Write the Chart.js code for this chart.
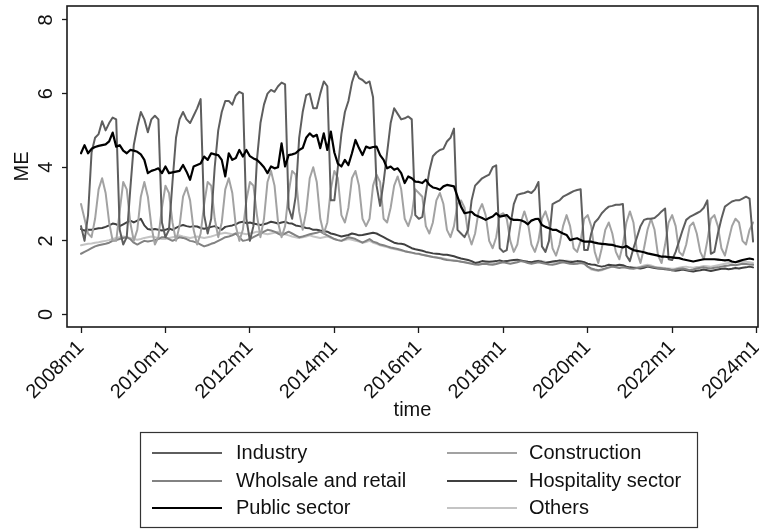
<!DOCTYPE html>
<html>
<head>
<meta charset="utf-8">
<script src="https://cdn.jsdelivr.net/npm/chart.js@4/dist/chart.umd.min.js"></script>
<style>
  html, body { margin: 0; padding: 0; background: #fff; }
  #wrap { width: 759px; height: 529px; }
</style>
</head>
<body>
<div id="wrap"><canvas id="c" width="759" height="529"></canvas></div>
<script>
// Monthly series, 2008m1 .. 2023m12 (index 0 = 2008m1)
const industry = [
  2.4, 2.0, 2.7, 4.4, 4.8, 4.9, 5.25, 5.0, 5.2, 5.35, 5.3, 2.3,
  1.9, 2.1, 3.4, 4.6, 5.1, 5.5, 5.3, 4.95, 5.3, 5.4, 5.3, 2.5,
  2.1, 2.3, 3.6, 4.8, 5.3, 5.5, 5.3, 5.2, 5.4, 5.6, 5.85, 2.7,
  2.2, 2.6, 4.0, 5.0, 5.5, 5.8, 5.8, 5.7, 5.95, 6.05, 6.0, 2.6,
  2.0, 2.4, 4.2, 5.2, 5.7, 6.0, 6.1, 6.05, 6.2, 6.3, 6.25, 2.9,
  2.6, 3.2, 4.8, 5.5, 5.96, 6.0, 5.6, 5.6, 6.0, 6.33, 6.2, 3.1,
  3.1, 4.0, 4.9, 5.5, 5.8, 6.3, 6.6, 6.42, 6.37, 6.28, 6.33, 5.9,
  3.5, 2.95, 3.6, 4.4, 5.2, 5.6, 5.45, 5.3, 5.33, 5.38, 5.3, 2.7,
  2.6, 2.65, 3.3, 3.9, 4.3, 4.4, 4.47, 4.5, 4.7, 4.8, 5.05, 2.3,
  2.2, 2.1, 2.3, 3.1, 3.5, 3.6, 3.7, 3.75, 3.8, 4.0, 4.05, 1.8,
  1.7, 1.75, 2.4, 3.0, 3.25, 3.28, 3.3, 3.34, 3.3, 3.4, 3.6, 1.85,
  1.7, 2.0, 3.0, 3.05, 3.1, 3.2, 3.25, 3.3, 3.35, 3.38, 3.4, 1.75,
  1.75, 2.2, 2.5, 2.6, 2.75, 2.85, 2.93, 2.95, 2.98, 2.98, 3.0, 1.6,
  1.45, 1.8, 2.1, 2.4, 2.57, 2.6, 2.6, 2.62, 2.7, 2.8, 2.88, 1.5,
  1.48, 1.7, 2.0, 2.3, 2.57, 2.65, 2.7, 2.75, 2.8, 2.9, 3.1, 1.65,
  1.7, 2.2, 2.6, 2.93, 3.0, 3.07, 3.1, 3.1, 3.15, 3.2, 3.15, 1.98
];
const construction = [
  3.0, 2.6, 2.2, 2.1, 2.6, 3.4, 3.7, 3.3, 2.5, 2.0, 2.0, 2.8,
  3.6, 3.4, 2.5, 2.0, 2.3, 3.2, 3.6, 3.2, 2.4, 1.9, 2.1, 2.9,
  3.5, 3.3, 2.5, 2.0, 2.4, 3.2, 3.45, 3.1, 2.3, 1.9, 2.2, 3.0,
  3.6, 3.5, 2.6, 2.1, 2.5, 3.4, 3.7, 3.3, 2.4, 2.0, 2.3, 3.1,
  3.6, 3.5, 2.7, 2.1, 2.6, 3.6, 3.9, 3.5, 2.5, 2.1, 2.4, 3.3,
  3.9, 3.8, 2.8, 2.3, 2.8, 3.7, 4.0, 3.6, 2.6, 2.2, 2.5, 3.4,
  3.9, 3.7, 2.7, 2.5, 2.9, 3.7, 3.9, 3.5, 2.6, 2.4, 2.6, 3.5,
  3.8, 3.6, 2.6, 2.5, 2.9, 3.5, 3.75, 3.4, 2.6, 2.4, 2.7, 3.4,
  3.3, 3.2, 2.4, 2.2, 2.5, 3.1, 3.3, 3.0, 2.3, 2.1, 2.4, 3.0,
  3.1, 2.9, 2.2, 1.9, 2.2, 2.8, 3.0, 2.7, 2.0, 1.8, 2.1, 2.7,
  2.75, 2.6, 2.0, 1.7, 1.9, 2.5, 2.8, 2.5, 1.9, 1.7, 2.0, 2.6,
  2.8, 2.5, 1.8, 1.6, 1.9, 2.4, 2.7, 2.4, 1.8, 1.7, 2.0, 2.6,
  2.7, 2.4, 1.7, 1.4, 1.8, 2.3, 2.5, 2.2, 1.7, 1.5, 1.9, 2.5,
  2.8, 2.5, 1.7, 1.4, 1.8, 2.3, 2.6, 2.3, 1.6, 1.4, 1.9, 2.5,
  2.7, 2.4, 1.7, 1.6, 1.9, 2.4, 2.5, 2.2, 1.7, 1.5, 2.0, 2.6,
  2.7, 2.4, 1.8, 1.6, 2.0, 2.4, 2.6, 2.5, 2.0, 1.9, 2.3, 2.5
];
const wholesale = [
  1.65, 1.7, 1.75, 1.8, 1.85, 1.88, 1.9, 1.92, 1.95, 2.0, 2.02, 2.05,
  2.08, 2.1, 2.05, 1.95, 1.9, 1.95, 2.0, 1.98, 2.0, 2.02, 2.05, 2.1,
  2.1, 2.05, 2.0, 2.05, 2.1, 2.08, 2.05, 2.0, 1.98, 1.95, 1.9, 1.85,
  1.88, 1.92, 1.95, 2.0, 2.05, 2.1, 2.12, 2.15, 2.2, 2.1, 2.0, 2.02,
  2.05, 2.1, 2.15, 2.2, 2.25, 2.3, 2.28, 2.25, 2.2, 2.15, 2.2, 2.25,
  2.2, 2.15, 2.1, 2.12, 2.15, 2.18, 2.2, 2.22, 2.25, 2.2, 2.15, 2.1,
  2.05, 2.02, 2.0, 2.05, 2.1, 2.08, 2.05, 2.0, 1.95, 2.0, 2.05, 1.98,
  1.95, 1.9, 1.88, 1.85, 1.82, 1.8, 1.78, 1.75, 1.72, 1.7, 1.68, 1.66,
  1.65, 1.62, 1.6, 1.58, 1.56, 1.55, 1.53, 1.5, 1.48, 1.47, 1.46, 1.45,
  1.43, 1.42, 1.4, 1.38, 1.36, 1.35, 1.37, 1.38, 1.36, 1.35, 1.37, 1.4,
  1.42, 1.4, 1.38, 1.4, 1.42, 1.45, 1.43, 1.4, 1.38, 1.4, 1.42, 1.4,
  1.38, 1.36, 1.35, 1.37, 1.4, 1.42, 1.4, 1.38, 1.37, 1.38, 1.4, 1.38,
  1.3, 1.25, 1.22, 1.2, 1.22, 1.25, 1.28, 1.3, 1.28, 1.26, 1.28, 1.27,
  1.25, 1.24, 1.26, 1.28, 1.3, 1.32, 1.3, 1.28, 1.26, 1.25, 1.24, 1.22,
  1.2, 1.22, 1.24, 1.25, 1.23, 1.2, 1.22, 1.25, 1.27, 1.28, 1.26, 1.25,
  1.27, 1.28, 1.3, 1.32, 1.33, 1.35, 1.34, 1.36, 1.38, 1.37, 1.36, 1.35
];
const hospitality = [
  2.32, 2.28, 2.3, 2.3, 2.32, 2.34, 2.35, 2.38, 2.42, 2.47, 2.45, 2.4,
  2.45, 2.5, 2.55, 2.5, 2.55, 2.6, 2.42, 2.32, 2.3, 2.32, 2.3, 2.28,
  2.3, 2.34, 2.3, 2.35, 2.4, 2.43, 2.4, 2.38, 2.4, 2.39, 2.35, 2.33,
  2.35, 2.38, 2.4, 2.35, 2.3, 2.38, 2.4, 2.42, 2.45, 2.5, 2.52, 2.48,
  2.5, 2.47, 2.45, 2.43, 2.45, 2.48, 2.52, 2.5, 2.47, 2.5, 2.52, 2.48,
  2.47, 2.42, 2.4, 2.38, 2.35, 2.34, 2.3, 2.3, 2.28, 2.27, 2.25, 2.2,
  2.18, 2.15, 2.12, 2.14, 2.16, 2.2, 2.18, 2.15, 2.16, 2.18, 2.2, 2.22,
  2.2, 2.15, 2.1, 2.05, 2.0, 1.95, 1.93, 1.92, 1.9, 1.85, 1.8, 1.77,
  1.75, 1.73, 1.7, 1.68, 1.66, 1.65, 1.64, 1.62, 1.62, 1.6, 1.58, 1.55,
  1.52, 1.5, 1.48, 1.45, 1.4, 1.42, 1.45, 1.44, 1.43, 1.44, 1.45, 1.47,
  1.44, 1.45, 1.47, 1.48, 1.49, 1.47, 1.45, 1.43, 1.42, 1.44, 1.45, 1.43,
  1.4, 1.42, 1.44, 1.45, 1.47, 1.46, 1.44, 1.42, 1.43, 1.45, 1.44, 1.42,
  1.38, 1.36, 1.35, 1.32, 1.3, 1.32, 1.35, 1.34, 1.33, 1.35, 1.34, 1.3,
  1.28, 1.27, 1.26, 1.25, 1.27, 1.3, 1.28, 1.26, 1.25, 1.24, 1.23, 1.22,
  1.2, 1.19, 1.2, 1.22, 1.2, 1.18, 1.17, 1.19, 1.2, 1.22, 1.2, 1.18,
  1.2, 1.22, 1.24, 1.25, 1.23, 1.24, 1.26, 1.25, 1.27, 1.28, 1.3, 1.28
];
const publicSector = [
  4.38, 4.6, 4.38, 4.5, 4.55, 4.58, 4.6, 4.62, 4.7, 4.94, 4.56, 4.6,
  4.45, 4.38, 4.47, 4.45, 4.42, 4.35, 4.2, 3.84, 3.9, 3.93, 3.97, 3.84,
  4.02, 3.84, 3.86, 3.88, 3.9, 4.06, 3.88, 3.66, 4.02, 4.06, 4.1, 4.29,
  4.2, 4.38, 4.35, 4.33, 4.2, 3.75, 4.38, 4.2, 4.25, 4.47, 4.29, 4.47,
  4.3, 4.24, 4.2, 4.11, 4.0, 3.84, 4.02, 3.97, 4.0, 4.65, 4.02, 4.33,
  4.35, 4.38, 4.47, 4.52, 4.8, 4.92, 4.83, 4.88, 4.52, 4.92, 4.47, 4.97,
  4.4, 4.1, 4.02, 4.2, 4.06, 4.38, 4.74, 4.52, 4.33, 4.56, 4.52, 4.55,
  4.56, 4.33, 4.2, 3.97, 4.02, 3.93, 3.97, 3.84, 3.57, 3.75, 3.7, 3.61,
  3.6, 3.57, 3.66, 3.52, 3.45, 3.43, 3.39, 3.48, 3.52, 3.5, 3.48, 3.2,
  2.93, 2.75, 2.77, 2.79, 2.7, 2.66, 2.62, 2.57, 2.62, 2.66, 2.75, 2.66,
  2.68, 2.7, 2.6, 2.57, 2.57, 2.56, 2.52, 2.45, 2.55, 2.59, 2.6, 2.43,
  2.38, 2.34, 2.3, 2.3, 2.25, 2.2, 2.16, 2.02, 2.05, 2.07, 2.02, 1.98,
  1.98, 1.98, 1.95, 1.93, 1.92, 1.91, 1.9, 1.89, 1.86, 1.84, 1.82, 1.86,
  1.8, 1.75, 1.73, 1.71, 1.69, 1.66, 1.64, 1.62, 1.6, 1.57, 1.57, 1.56,
  1.55, 1.54, 1.53, 1.5, 1.48, 1.46, 1.44, 1.46, 1.48, 1.5, 1.5, 1.5,
  1.5, 1.49, 1.48, 1.47, 1.48, 1.44, 1.42, 1.45, 1.48, 1.5, 1.52, 1.5
];
const others = [
  1.88, 1.9, 1.92, 1.93, 1.95, 1.96, 1.98, 2.0, 2.02, 2.05, 2.08, 2.1,
  2.12, 2.1, 2.08, 2.05, 2.03, 2.05, 2.08, 2.1, 2.12, 2.1, 2.08, 2.05,
  2.05, 2.08, 2.1, 2.12, 2.15, 2.12, 2.1, 2.08, 2.1, 2.12, 2.1, 2.08,
  2.1, 2.12, 2.15, 2.18, 2.2, 2.22, 2.2, 2.18, 2.2, 2.22, 2.2, 2.18,
  2.2, 2.22, 2.25, 2.22, 2.2, 2.18, 2.2, 2.22, 2.25, 2.2, 2.18, 2.15,
  2.12, 2.1, 2.08, 2.1, 2.12, 2.15, 2.12, 2.1, 2.08, 2.1, 2.12, 2.08,
  2.05, 2.02, 2.0, 2.02, 2.05, 2.03, 2.0, 1.98, 1.95, 1.97, 2.0, 1.95,
  1.92, 1.88, 1.85, 1.83, 1.8, 1.78, 1.76, 1.74, 1.72, 1.7, 1.68, 1.65,
  1.64, 1.62, 1.6, 1.58, 1.56, 1.55, 1.54, 1.52, 1.5, 1.48, 1.47, 1.46,
  1.44, 1.42, 1.4, 1.39, 1.38, 1.37, 1.38, 1.39, 1.38, 1.37, 1.39, 1.42,
  1.44, 1.45, 1.46, 1.47, 1.46, 1.45, 1.44, 1.43, 1.42, 1.44, 1.46, 1.45,
  1.43, 1.42, 1.41, 1.42, 1.44, 1.45, 1.46, 1.45, 1.44, 1.43, 1.45, 1.42,
  1.3, 1.22, 1.2, 1.18, 1.2, 1.24, 1.27, 1.3, 1.29, 1.28, 1.3, 1.28,
  1.27, 1.26, 1.28, 1.3, 1.33, 1.35, 1.33, 1.3, 1.28, 1.27, 1.26, 1.25,
  1.24, 1.25, 1.27, 1.29, 1.3, 1.28, 1.27, 1.29, 1.3, 1.32, 1.31, 1.3,
  1.32, 1.34, 1.36, 1.38, 1.4, 1.41, 1.42, 1.43, 1.44, 1.43, 1.42, 1.4
];

const seriesNames = ['Industry', 'Construction', 'Wholsale and retail', 'Hospitality sector', 'Public sector', 'Others'];
const xTickValues = [0, 24, 48, 72, 96, 120, 144, 168, 192];
const xTickLabels = ['2008m1', '2010m1', '2012m1', '2014m1', '2016m1', '2018m1', '2020m1', '2022m1', '2024m1'];
const yTickValues = [0, 2, 4, 6, 8];
const yTickLabels = ['0', '2', '4', '6', '8'];
const yTitle = 'ME';
const xTitle = 'time';

const FONT = '"Liberation Sans", Arial, Helvetica, sans-serif';
const seriesData = [industry, construction, wholesale, hospitality, publicSector, others];
const seriesColors = ['#5e5e5e', '#a2a2a2', '#828282', '#404040', '#000000', '#c4c4c4'];
const seriesWidths = [2, 2, 2, 2, 2.2, 2];
// draw order: light lines first, black last
const drawOrder = [5, 3, 2, 1, 0, 4];

const datasets = seriesData.map((vals, k) => ({
  label: seriesNames[k],
  data: vals.map((v, i) => ({ x: i, y: v })),
  borderColor: seriesColors[k],
  backgroundColor: seriesColors[k],
  borderWidth: seriesWidths[k],
  pointRadius: 0,
  tension: 0,
  fill: false,
  order: drawOrder.length - drawOrder.indexOf(k)
}));

const frameAndText = {
  id: 'frameAndText',
  afterDraw(chart) {
    const { ctx, chartArea: a, scales } = chart;
    ctx.save();
    // plot frame
    ctx.strokeStyle = '#1a1a1a';
    ctx.lineWidth = 1.6;
    ctx.strokeRect(a.left, a.top, a.right - a.left, a.bottom - a.top);

    // y tick labels, rotated
    ctx.fillStyle = '#111';
    ctx.font = '20px ' + FONT;
    ctx.textAlign = 'center';
    ctx.textBaseline = 'alphabetic';
    yTickValues.forEach((v, i) => {
      const py = scales.y.getPixelForValue(v);
      ctx.save();
      ctx.translate(52, py);
      ctx.rotate(-Math.PI / 2);
      ctx.fillText(yTickLabels[i], 0, 0);
      ctx.restore();
    });

    // axis titles
    ctx.font = '20px ' + FONT;
    ctx.save();
    ctx.translate(28, (a.top + a.bottom) / 2);
    ctx.rotate(-Math.PI / 2);
    ctx.fillText(yTitle, 0, 0);
    ctx.restore();
    ctx.textBaseline = 'middle';
    ctx.fillText(xTitle, (a.left + a.right) / 2, 410);

    // legend
    const box = { x: 140, y: 432, w: 557, h: 95 };
    ctx.strokeStyle = '#333';
    ctx.lineWidth = 1.2;
    ctx.strokeRect(box.x + 0.5, box.y + 0.5, box.w, box.h);
    const rows = [453, 481, 508];
    const cols = [{ l0: 152, l1: 222, t: 236 }, { l0: 447, l1: 517, t: 529 }];
    ctx.font = '20px ' + FONT;
    ctx.textAlign = 'left';
    ctx.textBaseline = 'middle';
    chart.data.datasets.forEach((ds, k) => {
      const c = cols[k % 2];
      const y = rows[Math.floor(k / 2)];
      ctx.strokeStyle = ds.borderColor;
      ctx.lineWidth = ds.borderWidth;
      ctx.beginPath();
      ctx.moveTo(c.l0, y);
      ctx.lineTo(c.l1, y);
      ctx.stroke();
      ctx.fillStyle = '#111';
      ctx.fillText(ds.label, c.t, y);
    });
    ctx.restore();
  }
};

new Chart(document.getElementById('c'), {
  type: 'line',
  data: { datasets },
  options: {
    responsive: false,
    animation: false,
    devicePixelRatio: 1,
    layout: { padding: { left: 0, right: 1, top: 6, bottom: 0 } },
    plugins: { legend: { display: false }, tooltip: { enabled: false } },
    elements: { line: { borderJoinStyle: 'round', borderCapStyle: 'round' } },
    scales: {
      x: {
        type: 'linear',
        min: -3.98,
        max: 192.4,
        afterBuildTicks: s => { s.ticks = xTickValues.map(v => ({ value: v })); },
        afterFit: s => { s.height = 202; s.paddingLeft = 0; s.paddingRight = 0; },
        grid: { drawOnChartArea: false, drawTicks: true, tickLength: 6, tickWidth: 1.3, tickColor: '#1a1a1a' },
        border: { display: false },
        ticks: {
          minRotation: 45, maxRotation: 45, autoSkip: false, padding: 3,
          color: '#111',
          font: { family: FONT, size: 20 },
          callback: v => xTickLabels[xTickValues.indexOf(v)]
        }
      },
      y: {
        type: 'linear',
        min: -0.34,
        max: 8.38,
        afterBuildTicks: s => { s.ticks = yTickValues.map(v => ({ value: v })); },
        afterFit: s => { s.width = 67; s.paddingTop = 0; s.paddingBottom = 0; },
        grid: { drawOnChartArea: false, drawTicks: true, tickLength: 5, tickWidth: 1.3, tickColor: '#1a1a1a' },
        border: { display: false },
        ticks: { display: false }
      }
    }
  },
  plugins: [frameAndText]
});
</script>
</body>
</html>
